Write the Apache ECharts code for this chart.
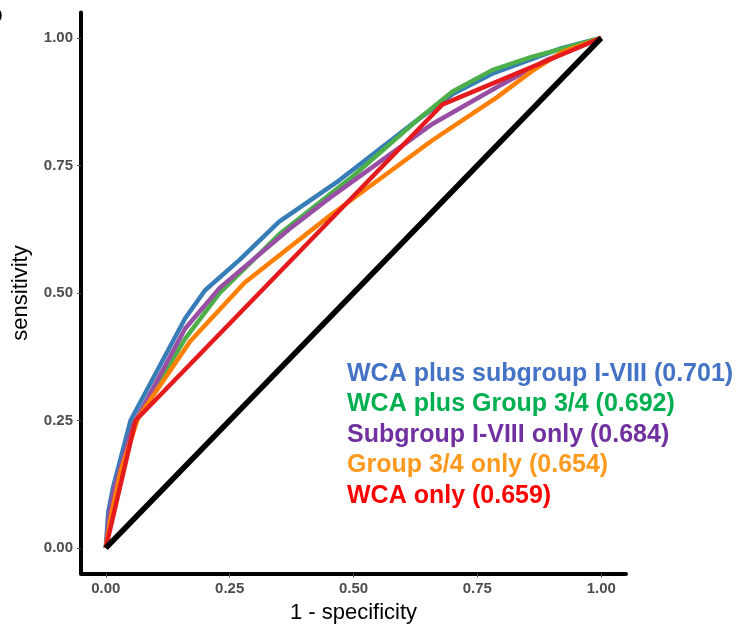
<!DOCTYPE html>
<html>
<head>
<meta charset="utf-8">
<title>ROC curves</title>
<script src="https://cdn.jsdelivr.net/npm/echarts@6/dist/echarts.min.js"></script>
<style>
  html, body { margin: 0; padding: 0; background: #fff; }
  #chart { width: 743px; height: 629px; }
</style>
</head>
<body>
<div id="chart"></div>
<script>
// ROC curve points, [1 - specificity, sensitivity]
const wcaPlusSubgroup = [[0, 0], [0.005, 0.07], [0.015, 0.12], [0.05, 0.25], [0.16, 0.45], [0.20, 0.505], [0.27, 0.565], [0.35, 0.64], [0.47, 0.72], [0.63, 0.84], [0.70, 0.89], [0.78, 0.93], [0.92, 0.98], [1, 1]];
const wcaPlusGroup34 = [[0, 0], [0.01, 0.07], [0.02, 0.12], [0.055, 0.24], [0.16, 0.41], [0.23, 0.50], [0.35, 0.615], [0.50, 0.73], [0.63, 0.84], [0.70, 0.895], [0.78, 0.937], [0.86, 0.963], [1, 1]];
const subgroupOnly = [[0, 0], [0.008, 0.07], [0.018, 0.12], [0.055, 0.24], [0.16, 0.43], [0.23, 0.51], [0.37, 0.625], [0.45, 0.685], [0.66, 0.832], [0.79, 0.904], [0.89, 0.957], [1, 1]];
const group34Only = [[0, 0], [0.01, 0.06], [0.03, 0.15], [0.065, 0.255], [0.17, 0.405], [0.28, 0.52], [0.45, 0.65], [0.66, 0.80], [0.79, 0.884], [0.86, 0.935], [0.92, 0.972], [1, 1]];
const wcaOnly = [[0, 0], [0.06, 0.25], [0.68, 0.87], [1, 1]];
const chanceLine = [[0, 0], [1, 1]];

const seriesNames = ["WCA plus subgroup I-VIII", "WCA plus Group 3/4", "Subgroup I-VIII only", "Group 3/4 only", "WCA only"];
const aucValues = [0.701, 0.692, 0.684, 0.654, 0.659];
const tickValues = [0, 0.25, 0.5, 0.75, 1];

const lineColors = ["#377EB8", "#4DAF4A", "#984EA3", "#FF7F00", "#E41A1C"];
const labelColors = ["#4472C4", "#00B050", "#7030A0", "#FF9A1F", "#FF0000"];
const curves = [wcaPlusSubgroup, wcaPlusGroup34, subgroupOnly, group34Only, wcaOnly];

const font = "'Liberation Sans', Arial, sans-serif";

const axisCommon = {
  type: "value",
  min: -0.05,
  max: 1.05,
  axisLine: { show: true, onZero: false, lineStyle: { color: "#000", width: 4 } },
  axisTick: { show: true, customValues: tickValues, length: 4, lineStyle: { color: "#4d4d4d", width: 1 } },
  axisLabel: {
    customValues: tickValues,
    formatter: (v) => v.toFixed(2),
    color: "#4d4d4d",
    fontWeight: "bold",
    fontSize: 15,
    fontFamily: font,
    margin: 8,
  },
  splitLine: { show: false },
  nameLocation: "middle",
  nameTextStyle: { color: "#000", fontSize: 22, fontFamily: font },
};

const myChart = echarts.init(document.getElementById("chart"));

let series = curves.map((d, i) => ({
  name: seriesNames[i],
  type: "line",
  data: d,
  showSymbol: false,
  lineStyle: { color: lineColors[i], width: 4.5 },
  z: 2 + i,
}));
series.push({
  name: "chance",
  type: "line",
  data: chanceLine,
  showSymbol: false,
  lineStyle: { color: "#000", width: 5.5 },
  z: 10,
});

// legend text with AUC, coloured per curve
let labels = seriesNames.map((n, i) => ({
  type: "text",
  left: 347,
  top: 375.5 + i * 30.5 - 14,
  style: {
    text: n + " (" + aucValues[i].toFixed(3) + ")",
    fill: labelColors[i],
    font: "bold 25px " + font,
  },
}));
// panel letter, clipped at left edge
labels.push({
  type: "text",
  left: -12,
  top: 3,
  style: { text: "b", fill: "#000", font: "bold 24px " + font },
});

let option = {
  animation: false,
  backgroundColor: "#fff",
  grid: { left: 81, top: 12.5, width: 545, height: 561, containLabel: false, outerBoundsMode: "none" },
  xAxis: Object.assign({}, axisCommon, { name: "1 - specificity", nameGap: 28 }),
  yAxis: Object.assign({}, axisCommon, { name: "sensitivity", nameGap: 49 }),
  series: series,
  graphic: labels,
};
myChart.setOption(option);
</script>
</body>
</html>
